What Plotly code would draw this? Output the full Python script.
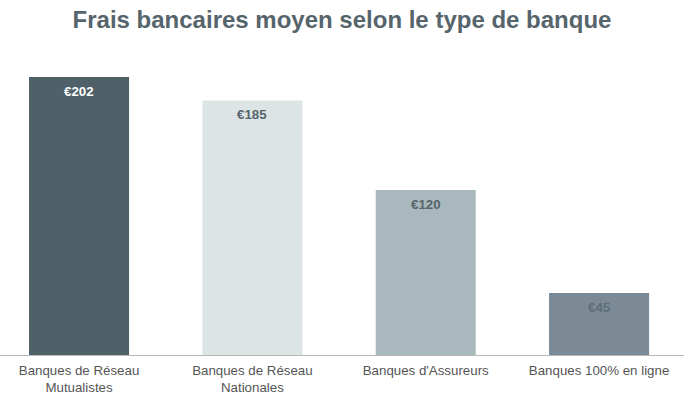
import plotly.graph_objects as go

categories = ["Banques de Réseau<br>Mutualistes", "Banques de Réseau<br>Nationales",
              "Banques d'Assureurs", "Banques 100% en ligne"]
values = [202, 185, 120, 45]
labels = ["€202", "€185", "€120", "€45"]
bar_colors = ["#4f6068", "#dce4e5", "#a9b8bc", "#7b8a94"]
label_colors = ["#ffffff", "#56646c", "#56646c", "#5e6e78"]

fig = go.Figure()
fig.add_trace(go.Bar(
    x=list(range(len(categories))), y=values,
    marker=dict(color=bar_colors, line=dict(width=0)),
    width=0.577, hoverinfo="skip",
))

for i, (v, t, c) in enumerate(zip(values, labels, label_colors)):
    fig.add_annotation(x=i, y=v, text="<b>%s</b>" % t, showarrow=False,
                       yanchor="top", yshift=-5,
                       font=dict(family="Liberation Sans, Arial", size=13.3, color=c))

fig.update_layout(
    width=684, height=398,
    margin=dict(l=0, r=0, t=60, b=43),
    paper_bgcolor="white", plot_bgcolor="white",
    showlegend=False,
    title=dict(text="<b>Frais bancaires moyen selon le type de banque</b>",
               x=0.5, xanchor="center", y=0.95, yanchor="middle",
               font=dict(family="Liberation Sans, Arial", size=24, color="#56646c")),
    xaxis=dict(range=[-0.456, 3.49], tickmode="array",
               tickvals=list(range(len(categories))), ticktext=categories,
               showgrid=False, zeroline=False, showline=True,
               linecolor="#b8b8b8", linewidth=1, ticks="", ticklabelstandoff=3,
               tickfont=dict(family="Liberation Sans, Arial", size=13.3, color="#555555")),
    yaxis=dict(range=[0, 214.4], visible=False, showgrid=False, zeroline=False),
)

fig.write_html("out.html", config={"displayModeBar": False, "staticPlot": True},
               post_script="document.body.style.margin='0';document.body.style.overflow='hidden';")
